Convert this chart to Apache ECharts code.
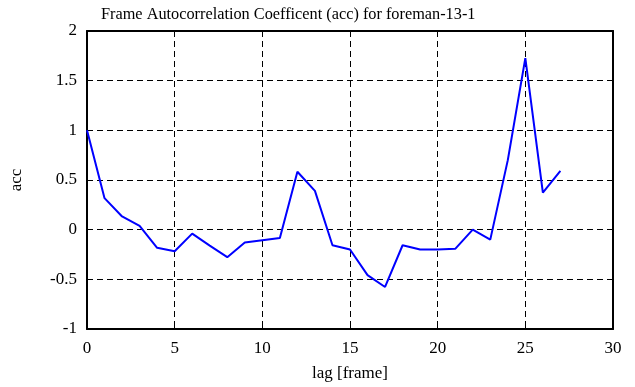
<!DOCTYPE html>
<html>
<head>
    <meta charset="utf-8">
    <title>ECharts</title>
    <script src="https://cdn.jsdelivr.net/npm/echarts@6/dist/echarts.min.js"></script>
    <style>
        html, body { width: 100%; height: 100%; margin: 0; background: #fff; }
        #main { width: 635px; height: 387px; }
    </style>
</head>
<body>
    <div id="main"></div>
    <script type="text/javascript">
        var lags = [0, 1, 2, 3, 4, 5, 6, 7, 8, 9, 10, 11, 12, 13, 14, 15, 16, 17, 18, 19, 20, 21, 22, 23, 24, 25, 26, 27];
        var acc = [1.0, 0.317, 0.133, 0.037, -0.183, -0.217, -0.04, -0.16, -0.277, -0.13, -0.107, -0.085,
                   0.583, 0.39, -0.157, -0.2, -0.457, -0.577, -0.157, -0.2, -0.2, -0.193, 0.0, -0.1,
                   0.7, 1.727, 0.373, 0.593];
        var xTicks = [0, 5, 10, 15, 20, 25, 30];
        var yTicks = [-1, -0.5, 0, 0.5, 1, 1.5, 2];

        var myChart = echarts.init(document.getElementById('main'));
        var font = 'Liberation Serif';
        var dashed = { show: true, lineStyle: { color: '#000', type: [6, 4], width: 1 } };
        var tick = { show: true, inside: true, length: 5, lineStyle: { color: '#000', width: 1 } };

        var option = {
            animation: false,
            title: {
                text: 'Frame Autocorrelation Coefficent (acc) for foreman-13-1',
                left: 96,
                top: 2,
                textStyle: { fontFamily: font, fontSize: 16.3, fontWeight: 'normal', color: '#000' }
            },
            grid: { left: 86, right: 22, top: 31, bottom: 56 },
            xAxis: [{
                type: 'value',
                min: xTicks[0], max: xTicks[xTicks.length - 1], interval: 5,
                name: 'lag [frame]', nameLocation: 'middle', nameGap: 36,
                nameTextStyle: { fontFamily: font, fontSize: 17, color: '#000' },
                axisLine: { show: true, onZero: false, lineStyle: { color: '#000', width: 2 } },
                axisTick: tick,
                axisLabel: { fontFamily: font, fontSize: 17, color: '#000', margin: 11 },
                splitLine: dashed
            }, {
                type: 'value', position: 'top',
                min: xTicks[0], max: xTicks[xTicks.length - 1], interval: 5,
                axisLine: { show: true, onZero: false, lineStyle: { color: '#000', width: 2 } },
                axisTick: tick, axisLabel: { show: false }, splitLine: { show: false }
            }],
            yAxis: [{
                type: 'value',
                min: yTicks[0], max: yTicks[yTicks.length - 1], interval: 0.5,
                name: 'acc', nameLocation: 'middle', nameGap: 62,
                nameTextStyle: { fontFamily: font, fontSize: 17, color: '#000' },
                axisLine: { show: true, onZero: false, lineStyle: { color: '#000', width: 2 } },
                axisTick: tick,
                axisLabel: { fontFamily: font, fontSize: 17, color: '#000', margin: 10, padding: [4, 0, 0, 0] },
                splitLine: dashed
            }, {
                type: 'value', position: 'right',
                min: yTicks[0], max: yTicks[yTicks.length - 1], interval: 0.5,
                axisLine: { show: true, onZero: false, lineStyle: { color: '#000', width: 2 } },
                axisTick: tick, axisLabel: { show: false }, splitLine: { show: false }
            }],
            series: [{
                type: 'line',
                data: lags.map(function (l, i) { return [l, acc[i]]; }),
                symbol: 'none',
                lineStyle: { color: '#0000ff', width: 2 }
            }]
        };
        myChart.setOption(option);
    </script>
</body>
</html>
